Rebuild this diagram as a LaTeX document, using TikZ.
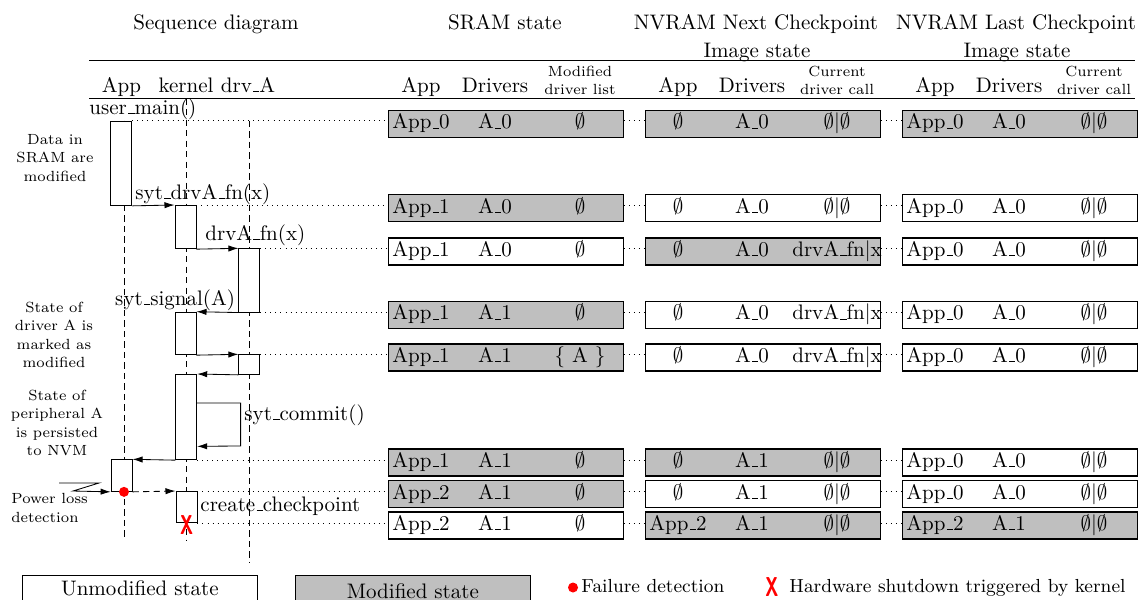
\documentclass[tikz,border=0pt]{standalone}
\usepackage{tikz}
\usepackage{graphicx}
\usetikzlibrary{calc,positioning,arrows.meta}
\def\pxu{0.476pt}
\renewcommand{\_}{\leavevmode\kern.06em\vbox{\hrule width.3em}}
\def\haltX{\scalebox{0.85}[1.3]{\sffamily\bfseries X}}
\def\statebox[#1](#2)(#3,#4)#5#6#7{%
	\node[staterow,#1] (#2) at (#3,#4) {};
	\node[cell] (#2a) at ($(#2.north west)+(33,19)$) {#5};
	\node[cell] (#2b) at ($(#2.north west)+(107,19)$) {#6};
	\node[cell] (#2c) at ($(#2.north west)+(192,19)$) {#7};}
\def\actbox(#1)(#2,#3,#4){\node[act, minimum height={(#4-#3)*\pxu}] (#1) at (#2,#3) {};}
\def\rowlink(#1)#2{\draw[dotlink] (#1) -- (#1 -| s#2.west) (s#2.east |- #1) -- (#1 -| n#2.west) (n#2.east |- #1) -- (#1 -| l#2.west);}
\tikzset{
	act/.style={draw, fill=white, minimum width={21*\pxu}, inner sep=0pt, anchor=north},
	staterow/.style={draw, semithick, minimum width={234.5*\pxu}, minimum height={27*\pxu}, inner sep=0pt, anchor=north west},
	mod/.style={fill=lightgray},
	unmod/.style={fill=white},
	msg/.style={-{Latex[length=4.8pt,width=3pt]}},
	lifeline/.style={dash pattern=on 3pt off 2pt},
	dotlink/.style={dotted},
	cell/.style={anchor=base, inner sep=0pt},
	hdr/.style={anchor=base, inner sep=0pt},
	subhdr/.style={anchor=south, inner sep=0pt, align=center, font=\fontsize{7}{8.6}\selectfont},
	note/.style={align=center, inner sep=0pt, font=\fontsize{7}{8.7}\selectfont},
	lbl/.style={inner sep=0pt},
	faildot/.style={circle, fill=red, inner sep=0pt, minimum size={10*\pxu}},
	haltx/.style={text=red, inner sep=0pt},
}

\begin{document}
\begin{tikzpicture}[x=\pxu, y=-\pxu]
	%%%%% START %%%%%
	\useasboundingbox (0,0) rectangle (1141,599);
	
	\node[hdr] (tSeq) at (216,29) {Sequence diagram};
	\node[hdr] (tSram) at (505,29) {SRAM state};
	\node[hdr] (tNext) at (756,29) {NVRAM Next Checkpoint};
	\node[hdr] (tNextb) at (757,57) {Image state};
	\node[hdr] (tLast) at (1016,29) {NVRAM Last Checkpoint};
	\node[hdr] (tLastb) at (1017,57) {Image state};
	
	\draw[semithick] (89,60.5) -- (1135,60.5);
	\draw[semithick] (89,98.5) -- (1135,98.5);
	
	\node[hdr] (hApp) at (121.5,92) {App};
	\node[hdr] (hKer) at (186,92) {kernel};
	\node[hdr] (hDrv) at (248,92) {drv\_A};
	\node[hdr] (hsApp) at (421,92) {App};
	\node[hdr] (hsDrv) at (495,92) {Drivers};
	\node[subhdr] (hsList) at (580,95.5) {Modified\\driver list};
	\node[hdr] (hnApp) at (678,92) {App};
	\node[hdr] (hnDrv) at (752,92) {Drivers};
	\node[subhdr] (hnCall) at (837,95.5) {Current\\driver call};
	\node[hdr] (hlApp) at (935,92) {App};
	\node[hdr] (hlDrv) at (1009,92) {Drivers};
	\node[subhdr] (hlCall) at (1094,95.5) {Current\\driver call};
	
	%%%%% SEQUENCE %%%%%
	
	\coordinate (appTop) at (124,120.7);
	\coordinate (appBot) at (124,540);
	\coordinate (kerTop) at (186.7,98.5);
	\coordinate (kerBot) at (186.7,540);
	\coordinate (drvTop) at (249.4,120.7);
	\coordinate (drvBot) at (249.4,563);
	\draw[lifeline] (appTop) -- (appBot);
	\draw[lifeline] (kerTop) -- (kerBot);
	\draw[lifeline] (drvTop) -- (drvBot);
	
	\actbox(a1)(121.4,120.7,205)
	\actbox(k1)(185.5,205,248.3)
	\actbox(d1)(249.4,248.3,311.7)
	\actbox(k2)(185.5,311.7,354.3)
	\actbox(d2)(249.4,354.3,374)
	\actbox(k3)(186.2,374,459.3)
	\actbox(a2)(121.6,459.3,491)
	\actbox(k4)(186.5,491,522.3)
	
	\node[lbl, anchor=base west] (mMain) at (89,114) {user\_main()};
	\draw[msg] (a1.south east) -- (k1.north west);
	\node[lbl, anchor=base west] (mCall) at (135,199) {syt\_drvA\_fn(x)};
	\draw[msg] (k1.south east) -- (d1.north west);
	\node[lbl, anchor=base west] (mDrv) at (205,240) {drvA\_fn(x)};
	\draw[msg] (d1.south west) -- (k2.north east);
	\node[lbl, anchor=base east] (mSig) at (235.5,305) {syt\_signal(A)};
	\draw[msg] (k2.south east) -- (d2.north west);
	\draw[msg] (d2.south west) -- (k3.north east);
	\draw[msg] ($(k3.north east)!0.336!(k3.south east)$) -- ++(43.5,0) -- ++(0,43) -- ($(k3.north east)!0.84!(k3.south east)$);
	\node[lbl, anchor=base west] (mCommit) at (244,420) {syt\_commit()};
	\draw[msg] (k3.south west) -- (a2.north east);
	
	\coordinate (plStart) at (59,483);
	\draw[msg] (plStart) -- ++(40,0) -- ++(-26,8) -- (a2.south west);
	\draw[msg, dash pattern=on 3pt off 2pt] (a2.south east) -- (k4.north west);
	\node[lbl, anchor=base west] (mCkpt) at (200,511) {create\_checkpoint};
	\node[faildot] (fail) at (a2.south -| appTop) {};
	\node[haltx] (halt) at ($(k4.south -| kerTop)+(0,1.5)$) {\haltX};
	
	\node[note] (nData) at (55,158) {Data in\\SRAM are\\modified};
	\node[note] (nMark) at (54,335) {State of\\driver A is\\marked as\\modified};
	\node[note] (nPers) at (57,423) {State of\\peripheral A\\is persisted\\to NVM};
	\node[note, anchor=west, align=left] (nPower) at (11,508) {Power loss\\detection};
	
	%%%%% STATES %%%%%
	
	\statebox[mod](s1)(388,109.7){App\_0}{A\_0}{$\emptyset$}
	\statebox[mod](n1)(645,109.7){$\emptyset$}{A\_0}{$\emptyset|\emptyset$}
	\statebox[mod](l1)(902,109.7){App\_0}{A\_0}{$\emptyset|\emptyset$}
	
	\statebox[mod](s2)(388,194){App\_1}{A\_0}{$\emptyset$}
	\statebox[unmod](n2)(645,194){$\emptyset$}{A\_0}{$\emptyset|\emptyset$}
	\statebox[unmod](l2)(902,194){App\_0}{A\_0}{$\emptyset|\emptyset$}
	
	\statebox[unmod](s3)(388,237.3){App\_1}{A\_0}{$\emptyset$}
	\statebox[mod](n3)(645,237.3){$\emptyset$}{A\_0}{drvA\_fn$|$x}
	\statebox[unmod](l3)(902,237.3){App\_0}{A\_0}{$\emptyset|\emptyset$}
	
	\statebox[mod](s4)(388,300.7){App\_1}{A\_1}{$\emptyset$}
	\statebox[unmod](n4)(645,300.7){$\emptyset$}{A\_0}{drvA\_fn$|$x}
	\statebox[unmod](l4)(902,300.7){App\_0}{A\_0}{$\emptyset|\emptyset$}
	
	\statebox[mod](s5)(388,343.3){App\_1}{A\_1}{$\{$ A $\}$}
	\statebox[unmod](n5)(645,343.3){$\emptyset$}{A\_0}{drvA\_fn$|$x}
	\statebox[unmod](l5)(902,343.3){App\_0}{A\_0}{$\emptyset|\emptyset$}
	
	\statebox[mod](s6)(388,448.3){App\_1}{A\_1}{$\emptyset$}
	\statebox[mod](n6)(645,448.3){$\emptyset$}{A\_1}{$\emptyset|\emptyset$}
	\statebox[unmod](l6)(902,448.3){App\_0}{A\_0}{$\emptyset|\emptyset$}
	
	\statebox[mod](s7)(388,480){App\_2}{A\_1}{$\emptyset$}
	\statebox[unmod](n7)(645,480){$\emptyset$}{A\_1}{$\emptyset|\emptyset$}
	\statebox[unmod](l7)(902,480){App\_0}{A\_0}{$\emptyset|\emptyset$}
	
	\statebox[unmod](s8)(388,511.3){App\_2}{A\_1}{$\emptyset$}
	\statebox[mod](n8)(645,511.3){App\_2}{A\_1}{$\emptyset|\emptyset$}
	\statebox[mod](l8)(902,511.3){App\_2}{A\_1}{$\emptyset|\emptyset$}
	
	\rowlink(a1.north east)1
	\rowlink(k1.north east)2
	\rowlink(d1.north east)3
	\rowlink(d1.south east)4
	\rowlink(d2.north east)5
	\rowlink(k3.south east)6
	\rowlink(k4.north east)7
	\rowlink(k4.south east)8
	
	%%%%% LEGEND %%%%%
	
	\node[staterow, unmod] (legU) at (22,575) {};
	\node[hdr] (legUt) at ($(legU.north)+(0,20)$) {Unmodified state};
	\node[staterow, mod] (legM) at (295,575) {};
	\node[hdr] (legMt) at ($(legM.north)+(0,23)$) {Modified state};
	\node[faildot] (legDot) at (573,587.5) {};
	\node[hdr, anchor=base west, font=\small] (legDott) at (581,592.5) {Failure detection};
	\node[haltx] (legX) at (772,587) {\haltX};
	\node[hdr, anchor=base west, font=\small] (legXt) at (789,592.5) {Hardware shutdown triggered by kernel};
	
	%%%%% END %%%%%
\end{tikzpicture}
\end{document}
